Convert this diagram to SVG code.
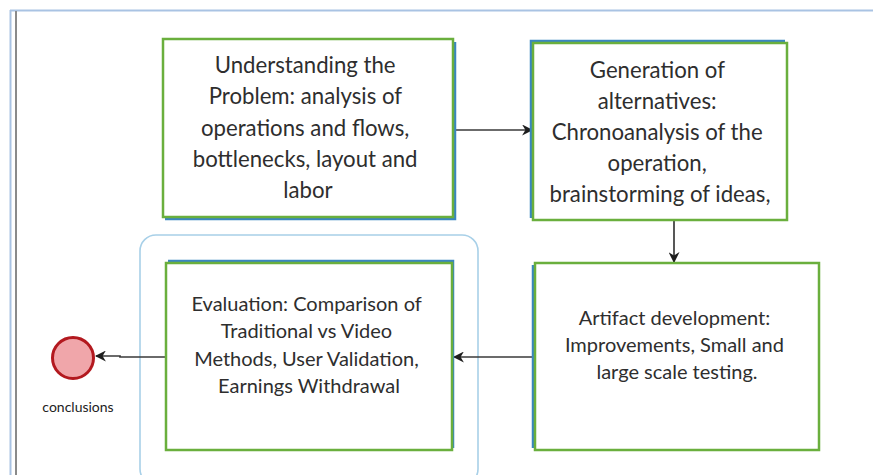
<svg xmlns="http://www.w3.org/2000/svg" width="873" height="475" viewBox="0 0 873 475">
  <style>
    .box { fill: #ffffff; stroke: #6aaf3d; stroke-width: 2.5; }
    .shadow { fill: none; stroke: #3a86c0; stroke-width: 2.5; }
    .lbl { font-family: Lato, "Liberation Sans", sans-serif; fill: #2e2e2e; text-anchor: middle; }
    .big { font-size: 22.2px; }
    .mid { font-size: 20px; }
    .edge { fill: none; stroke: #3a3a3a; stroke-width: 1.7; }
  </style>
  <defs>
    <marker id="arr" viewBox="0 0 10 10" refX="9" refY="5" markerWidth="11" markerHeight="11" markerUnits="userSpaceOnUse" orient="auto">
      <path d="M0,0 L10,5 L0,10 L3,5 Z" fill="#1e1e1e"/>
    </marker>
  </defs>

  <rect width="873" height="475" fill="#ffffff"/>

  <!-- page frame -->
  <g id="frame">
    <line x1="10" y1="10.5" x2="873" y2="10.5" stroke="#a9c3e3" stroke-width="2"/>
    <line x1="10.5" y1="10" x2="10.5" y2="475" stroke="#a9c3e3" stroke-width="2"/>
    <line x1="16" y1="11" x2="16" y2="475" stroke="#8a8a8a" stroke-width="2"/>
  </g>

  <!-- group around the evaluation step -->
  <rect id="eval-group" x="140" y="235" width="338" height="250" rx="16" fill="none" stroke="#a8d0e8" stroke-width="1.6"/>

  <g id="connectors">
    <line class="edge" x1="455" y1="130" x2="532" y2="130" marker-end="url(#arr)"/>
    <line class="edge" x1="674" y1="221" x2="674" y2="262" marker-end="url(#arr)"/>
    <line class="edge" x1="534" y1="357" x2="454" y2="357" marker-end="url(#arr)"/>
    <polyline class="edge" points="166,357 120,357 120,356 96,356" marker-end="url(#arr)"/>
  </g>

  <g id="understanding">
    <path class="shadow" d="M165,219 H455 V42"/>
    <rect class="box" x="163" y="39" width="290" height="178"/>
    <text class="lbl big">
      <tspan x="308" y="73">Understanding the</tspan>
      <tspan x="308" y="104">Problem: analysis of</tspan>
      <tspan x="308" y="136">operations and flows,</tspan>
      <tspan x="308" y="167">bottlenecks, layout and</tspan>
      <tspan x="308" y="198">labor</tspan>
    </text>
  </g>

  <g id="generation">
    <path class="shadow" d="M531,218 V41 H785"/>
    <rect class="box" x="533" y="43" width="254" height="177"/>
    <text class="lbl big">
      <tspan x="660" y="78">Generation of</tspan>
      <tspan x="660" y="109">alternatives:</tspan>
      <tspan x="660" y="140">Chronoanalysis of the</tspan>
      <tspan x="660" y="171">operation,</tspan>
      <tspan x="660" y="202">brainstorming of ideas,</tspan>
    </text>
  </g>

  <g id="artifact">
    <path class="shadow" d="M533,265 V448"/>
    <rect class="box" x="535" y="263" width="284" height="187"/>
    <text class="lbl mid">
      <tspan x="677" y="325">Artifact development:</tspan>
      <tspan x="677" y="352">Improvements, Small and</tspan>
      <tspan x="677" y="379">large scale testing.</tspan>
    </text>
  </g>

  <g id="evaluation">
    <path class="shadow" d="M168,261 H453 V448"/>
    <rect class="box" x="166" y="263" width="286" height="187"/>
    <text class="lbl mid">
      <tspan x="309" y="311">Evaluation: Comparison of</tspan>
      <tspan x="309" y="338">Traditional vs Video</tspan>
      <tspan x="309" y="366">Methods, User Validation,</tspan>
      <tspan x="309" y="393">Earnings Withdrawal</tspan>
    </text>
  </g>

  <g id="conclusions">
    <circle cx="73" cy="358" r="20.5" fill="#f0a6aa" stroke="#b3191f" stroke-width="3"/>
    <text x="78" y="412" font-family="Lato, 'Liberation Sans', sans-serif" font-size="14" fill="#222222" text-anchor="middle">conclusions</text>
  </g>
</svg>
